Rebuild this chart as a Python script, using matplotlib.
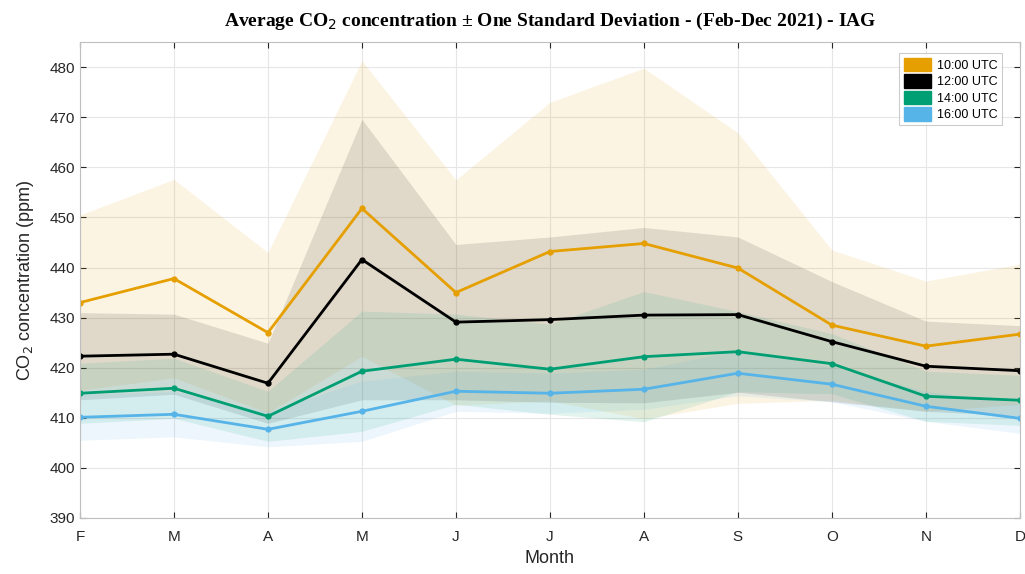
import matplotlib.pyplot as plt
import matplotlib.patches as mpatches
import numpy as np

months = ['F', 'M', 'A', 'M', 'J', 'J', 'A', 'S', 'O', 'N', 'D']
labels = ['10:00 UTC', '12:00 UTC', '14:00 UTC', '16:00 UTC']
colors = ['#E69F00', '#000000', '#009E73', '#56B4E9']

mean_10 = [433.0, 437.8, 427.0, 451.8, 435.0, 443.2, 444.8, 439.9, 428.5, 424.3, 426.7]
mean_12 = [422.3, 422.7, 416.9, 441.6, 429.1, 429.6, 430.5, 430.6, 425.2, 420.3, 419.4]
mean_14 = [414.9, 415.9, 410.3, 419.3, 421.7, 419.7, 422.2, 423.2, 420.8, 414.3, 413.5]
mean_16 = [410.1, 410.7, 407.7, 411.3, 415.3, 414.9, 415.7, 418.9, 416.7, 412.3, 409.9]

std_10 = [17.5, 19.8, 16.0, 29.5, 22.5, 29.8, 35.0, 27.0, 15.0, 13.0, 14.0]
std_12 = [8.7, 8.0, 8.0, 28.0, 15.5, 16.5, 17.5, 15.5, 12.0, 9.0, 9.0]
std_14 = [6.0, 6.0, 5.0, 12.0, 9.0, 9.0, 13.0, 8.0, 6.0, 5.0, 5.0]
std_16 = [4.6, 4.5, 3.5, 6.0, 4.0, 4.0, 4.0, 4.5, 3.5, 3.0, 3.0]

means = [mean_10, mean_12, mean_14, mean_16]
stds = [std_10, std_12, std_14, std_16]

plt.rcParams['font.family'] = ['Liberation Sans', 'DejaVu Sans']

fig = plt.figure(figsize=(10.25, 5.74), dpi=100)
ax = fig.add_axes([0.078, 0.0976, 0.917, 0.829])

x = np.arange(len(months))
for m, s, c in zip(means, stds, colors):
    m = np.array(m)
    s = np.array(s)
    ax.fill_between(x, m - s, m + s, color=c, alpha=0.11, linewidth=0)
for m, c in zip(means, colors):
    ax.plot(x, m, color=c, linewidth=2, marker='o', markersize=3.5)

ax.set_xlim(0, len(months) - 1)
ax.set_ylim(390, 485)
ax.set_xticks(x)
ax.set_xticklabels(months)
ax.set_yticks(np.arange(390, 481, 10))
ax.tick_params(direction='in', labelsize=11, colors='#262626', length=4, top=True, right=True,
               labeltop=False, labelright=False)
ax.tick_params(axis='x', pad=9)
ax.grid(True, color='#e6e6e6', linewidth=0.8)
ax.set_axisbelow(True)
for sp in ax.spines.values():
    sp.set_color('#bfbfbf')
    sp.set_linewidth(0.8)

ax.set_xlabel('Month', fontsize=13, color='#262626', labelpad=4)
ax.set_ylabel('CO$_2$ concentration (ppm)', fontsize=13, color='#262626', labelpad=10)
ax.set_title('Average CO$_2$ concentration ± One Standard Deviation - (Feb-Dec 2021) - IAG',
             fontsize=14, fontweight='bold', family='Liberation Serif', pad=12)

handles = [mpatches.Patch(facecolor=c, edgecolor=c, label=l) for c, l in zip(colors, labels)]
leg = ax.legend(handles=handles, loc='upper right', fontsize=9, frameon=True, fancybox=False,
                edgecolor='#bfbfbf', handlelength=2.2, handleheight=1.3, borderpad=0.35,
                labelspacing=0.2, handletextpad=0.5, bbox_to_anchor=(0.988, 0.99))
leg.get_frame().set_linewidth(0.8)

fig.savefig('out.png', dpi=100)
